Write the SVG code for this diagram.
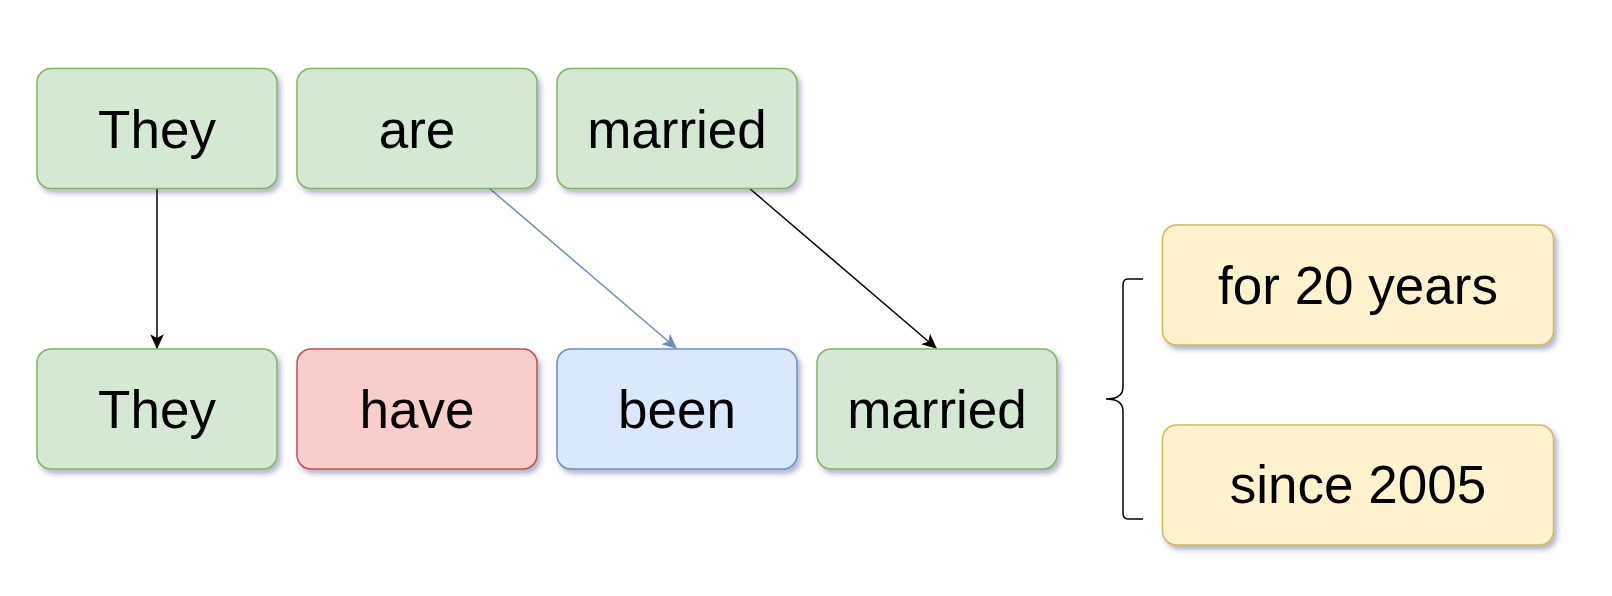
<svg xmlns="http://www.w3.org/2000/svg" width="1612" height="596" viewBox="0 0 1612 596">
<style>
.box{stroke-width:1.5;filter:url(#sh)}
.g{fill:#d5e8d4;stroke:#82b366}
.r{fill:#f8cecc;stroke:#b85450}
.b{fill:#dae8fc;stroke:#6c8ebf}
.y{fill:#fff2cc;stroke:#d6b656}
.t{font-family:"Liberation Sans",Arial,sans-serif;font-size:53px;fill:#000;text-anchor:middle}
.c{fill:none;stroke-width:1.5}
</style>
<defs>
<filter id="sh" x="-10%" y="-10%" width="130%" height="140%">
<feDropShadow dx="3" dy="4" stdDeviation="2.5" flood-color="#2a2f6e" flood-opacity="0.35"/>
</filter>
<marker id="ak" viewBox="0 0 12 12" refX="11" refY="6" markerWidth="15" markerHeight="15" markerUnits="userSpaceOnUse" orient="auto">
<path d="M0,0.5 L12,6 L0,11.5 L3,6 Z" fill="#000"/>
</marker>
<marker id="ab" viewBox="0 0 12 12" refX="11" refY="6" markerWidth="15" markerHeight="15" markerUnits="userSpaceOnUse" orient="auto">
<path d="M0,0.5 L12,6 L0,11.5 L3,6 Z" fill="#6c8ebf"/>
</marker>
</defs>
<g id="connectors">
<path class="c" d="M157,188 L157,348" stroke="#000" marker-end="url(#ak)"/>
<path class="c" d="M489,188 L676,348" stroke="#6c8ebf" marker-end="url(#ab)"/>
<path class="c" d="M749,188 L936,348" stroke="#000" marker-end="url(#ak)"/>
<path class="c" d="M1143,279 L1128,279 Q1123,279 1123,285 L1123,387 Q1123,399 1106,399 Q1123,399 1123,411 L1123,513 Q1123,519 1128,519 L1143,519" stroke="#000" stroke-width="1.2"/>
</g>
<g id="n-they-top"><rect class="box g" x="37" y="68.5" width="240" height="120" rx="14"/><text class="t" x="157" y="148">They</text></g>
<g id="n-are"><rect class="box g" x="297" y="68.5" width="240" height="120" rx="14"/><text class="t" x="417" y="148">are</text></g>
<g id="n-married-top"><rect class="box g" x="557" y="68.5" width="240" height="120" rx="14"/><text class="t" x="677" y="148">married</text></g>
<g id="n-they-bot"><rect class="box g" x="37" y="349" width="240" height="120" rx="14"/><text class="t" x="157" y="428">They</text></g>
<g id="n-have"><rect class="box r" x="297" y="349" width="240" height="120" rx="14"/><text class="t" x="417" y="428">have</text></g>
<g id="n-been"><rect class="box b" x="557" y="349" width="240" height="120" rx="14"/><text class="t" x="677" y="428">been</text></g>
<g id="n-married-bot"><rect class="box g" x="817" y="349" width="240" height="120" rx="14"/><text class="t" x="937" y="428">married</text></g>
<g id="n-for20"><rect class="box y" x="1162.5" y="225" width="391" height="120" rx="14"/><text class="t" x="1358" y="304">for 20 years</text></g>
<g id="n-since"><rect class="box y" x="1162.5" y="425" width="391" height="120" rx="14"/><text class="t" x="1358" y="503">since 2005</text></g>
</svg>
